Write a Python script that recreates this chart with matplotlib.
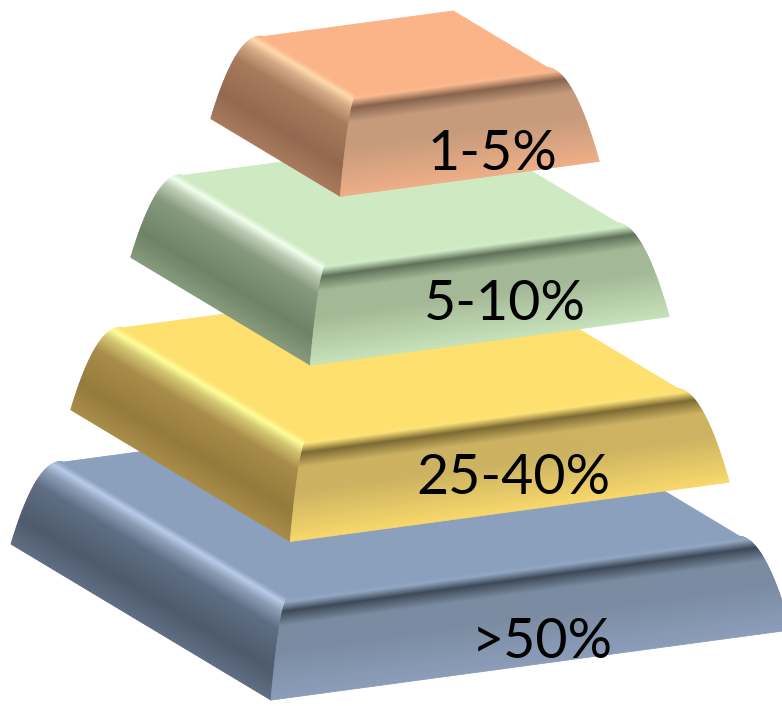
import numpy as np
import matplotlib.pyplot as plt
from matplotlib.collections import PolyCollection
from matplotlib.colors import to_rgb

# tiers, listed from the bottom slab up
tiers = ['>50%', '25-40%', '5-10%', '1-5%']

# slab shading: top, front, front (lower), crease, left side, left side (dark), edge glint
top_col   = ['#8aa0bd', '#fde06e', '#cfeac3', '#fab487']
front_col = ['#7a8ba1', '#cdb361', '#a3b896', '#c69a7b']
frbot_col = ['#8b9dba', '#f8d86b', '#c6e2ba', '#eeae86']
dark_col  = ['#3c4858', '#7d6a33', '#5f7259', '#86634c']
left_col  = ['#5e6d82', '#a88c48', '#859a7c', '#a87a5c']
ldark_col = ['#4d5a6d', '#947a3b', '#6e8266', '#93684e']
glint_col = ['#b9cde9', '#ffff9a', '#f3ffee', '#ffd9ad']

# slab geometry (pixels)
top_w   = [452, 371, 291, 191]
base_xy = [(401, 587), (400, 446), (400, 287), (405, 140)]
label_xy = [(542, 642), (513, 478), (505, 304), (492, 154)]
H, S = 88, 34
EX = np.array([1.0, -0.135])
EY = np.array([-0.5, -0.30])
EZ = np.array([0.0, -1.0])
N = 70


def proj(c, x, y, z):
    return c + x * EX + y * EY + z * EZ


def mix(a, b, w):
    a, b = np.array(to_rgb(a)), np.array(to_rgb(b))
    return a * (1 - w) + b * w


def ramp(f, keys, cols):
    cols = np.array([to_rgb(c) if isinstance(c, str) else c for c in cols])
    return np.stack([np.interp(f, keys, cols[:, i]) for i in range(3)], axis=-1)


fig = plt.figure(figsize=(7.82, 7.06), dpi=100)
ax = fig.add_axes([0, 0, 1, 1])
ax.set_xlim(0, 782)
ax.set_ylim(706, 0)
ax.axis('off')

# side profile: tight rounding at the top edge, then a gently curved flank
u = np.linspace(0, 1, N + 1) ** 2
o = S * np.sqrt(u)
d = H * u
z = H - d

for i in range(len(tiers)):
    c = np.array(base_xy[i], dtype=float)
    a = top_w[i] / 2 + o
    fm = 0.5 * (d[:-1] + d[1:]) / H

    # left side strips
    lpolys = []
    for k in range(N):
        lpolys.append([proj(c, -a[k], a[k], z[k]), proj(c, -a[k], -a[k], z[k]),
                       proj(c, -a[k + 1], -a[k + 1], z[k + 1]), proj(c, -a[k + 1], a[k + 1], z[k + 1])])
    lcols = ramp(fm, [0, 0.04, 0.12, 0.28, 0.7, 1.0],
                 [top_col[i], glint_col[i], mix(glint_col[i], left_col[i], 0.5),
                  left_col[i], ldark_col[i], left_col[i]])
    ax.add_collection(PolyCollection(lpolys, facecolors=lcols, edgecolors=lcols, linewidths=0.6))

    # front strips
    fpolys = []
    for k in range(N):
        fpolys.append([proj(c, -a[k], -a[k], z[k]), proj(c, a[k], -a[k], z[k]),
                       proj(c, a[k + 1], -a[k + 1], z[k + 1]), proj(c, -a[k + 1], -a[k + 1], z[k + 1])])
    fcols = ramp(fm, [0, 0.03, 0.11, 0.25, 0.5, 1.0],
                 [top_col[i], mix(top_col[i], '#ffffff', 0.08), dark_col[i],
                  front_col[i], front_col[i], frbot_col[i]])
    ax.add_collection(PolyCollection(fpolys, facecolors=fcols, edgecolors=fcols, linewidths=0.6))

    # flat top
    t = top_w[i] / 2
    top = [proj(c, -t, -t, H), proj(c, t, -t, H), proj(c, t, t, H), proj(c, -t, t, H)]
    ax.add_collection(PolyCollection([top], facecolors=top_col[i], edgecolors=top_col[i], linewidths=0.6))

    ax.text(label_xy[i][0], label_xy[i][1], tiers[i], ha='center', va='center',
            fontsize=40, family='Lato', color='black')

fig.savefig('out.png', dpi=100)
